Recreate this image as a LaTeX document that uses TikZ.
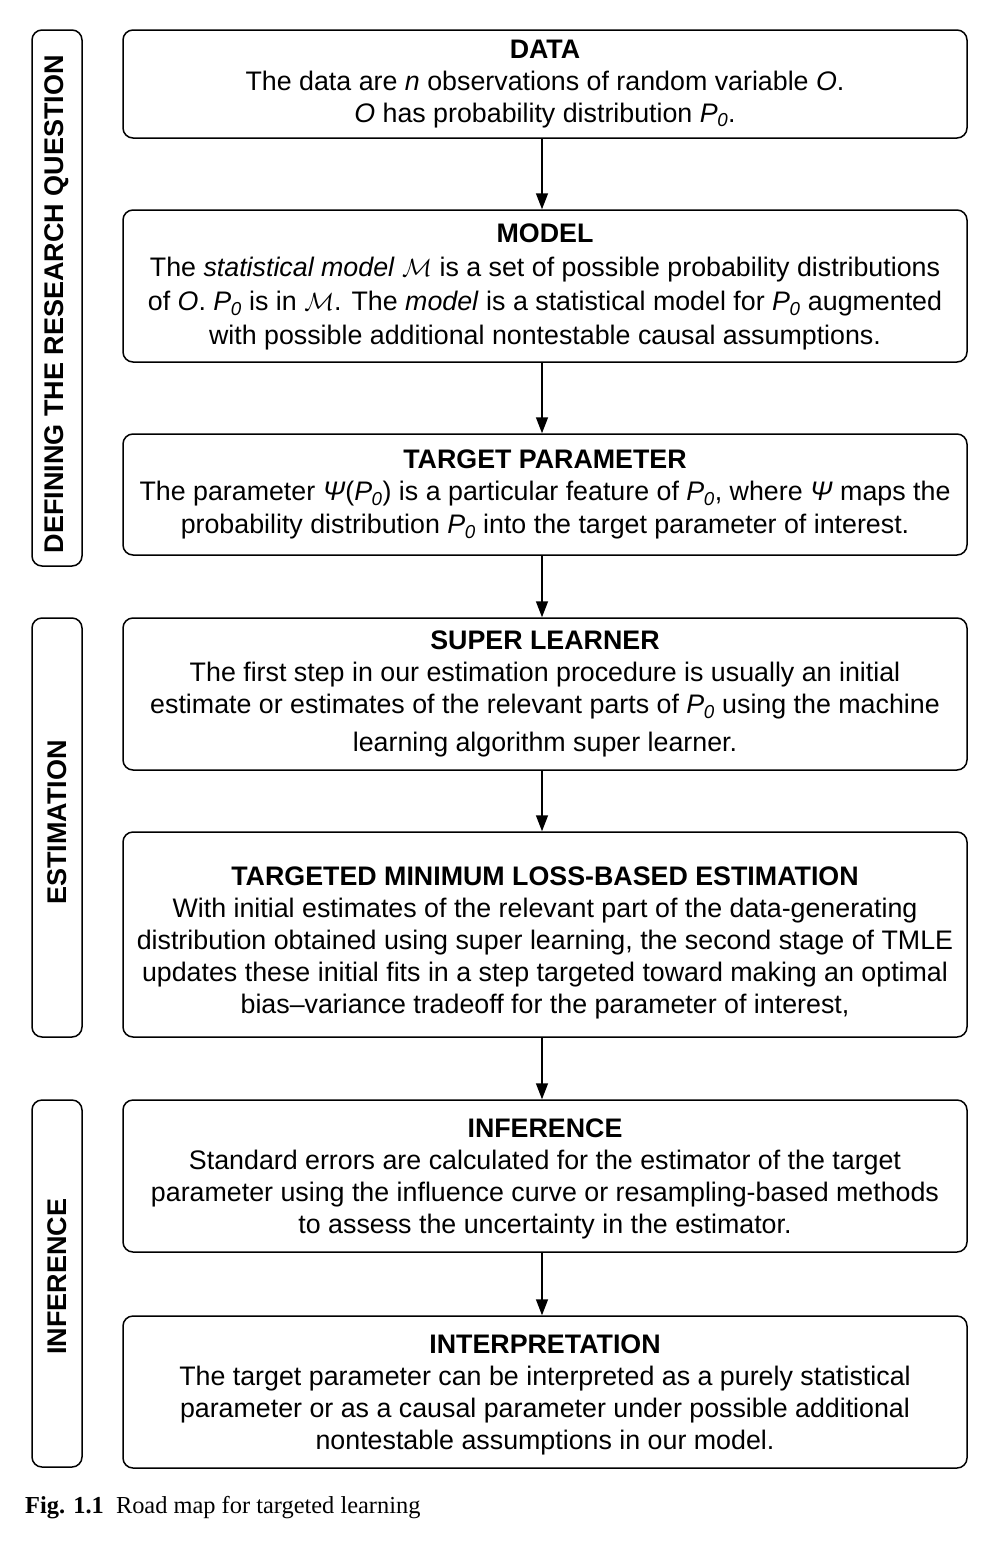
\documentclass[tikz,border=0pt]{standalone}
\usepackage{fontspec}
\setmainfont{Liberation Sans}
\newfontfamily\capfont{Liberation Serif}
\usetikzlibrary{arrows.meta}

\newcommand{\Pz}{\textit{P\kern-0.5pt}\textsubscript{\textit{0}}}
\newcommand{\Msf}{$\mathcal{M}$}

\begin{document}
\begin{tikzpicture}[x=1pt,y=-1pt,
  stagebox/.style={draw, line width=1.5pt, rounded corners=10pt,
    minimum width=844pt, inner sep=0pt, align=center,
    font=\fontsize{26.8}{32}\selectfont},
  sidebox/.style={draw, line width=1.5pt, rounded corners=10pt,
    minimum width=50pt, inner sep=0pt},
  sidelabel/.style={rotate=90, font=\bfseries\fontsize{27}{30}\selectfont},
  flow/.style={line width=1.5pt, -{Triangle[width=12pt,length=16pt]}}]

\useasboundingbox (0,0) rectangle (1002,1550);
\fill[white] (0,0) rectangle (1002,1550);

% main stages
\node[stagebox, minimum height=108pt] (data) at (545,84)
  {\textbf{DATA}\\
   The data are \textit{n} observations of random variable \textit{O}.\\
   \textit{O} has probability distribution \Pz.};

\node[stagebox, minimum height=152pt] (model) at (545,286)
  {\rule{0pt}{21pt}\textbf{MODEL}\\[2pt]
   The \textit{statistical model} \Msf{} is a set of possible probability distributions\\[2pt]
   of \textit{O}. \Pz{} is in \Msf. The \textit{model} is a statistical model for \Pz{} augmented\\[2pt]
   with possible additional nontestable causal assumptions.};

\node[stagebox, minimum height=121pt] (target) at (545,494.5)
  {\textbf{TARGET PARAMETER}\\
   The parameter \textit{Ψ}(\Pz) is a particular feature of \Pz, where \textit{Ψ} maps the\\[1pt]
   probability distribution \Pz{} into the target parameter of interest.};

\node[stagebox, minimum height=152pt] (super) at (545,694)
  {\textbf{SUPER LEARNER}\\
   The first step in our estimation procedure is usually an initial\\
   estimate or estimates of the relevant parts of \Pz{} using the machine\\[6pt]
   learning algorithm super learner.};

\node[stagebox, minimum height=205pt] (tmle) at (545,934.5)
  {\rule{0pt}{35pt}\textbf{TARGETED MINIMUM LOSS-BASED ESTIMATION}\\
   With initial estimates of the relevant part of the data-generating\\
   distribution obtained using super learning, the second stage of TMLE\\
   updates these initial fits in a step targeted toward making an optimal\\
   bias–variance tradeoff for the parameter of interest,};

\node[stagebox, minimum height=152pt] (infer) at (545,1176)
  {\rule{0pt}{25pt}\textbf{INFERENCE}\\
   Standard errors are calculated for the estimator of the target\\
   parameter using the influence curve or resampling-based methods\\
   to assess the uncertainty in the estimator.};

\node[stagebox, minimum height=152pt] (interp) at (545,1392)
  {\rule{0pt}{25pt}\textbf{INTERPRETATION}\\
   The target parameter can be interpreted as a purely statistical\\
   parameter or as a causal parameter under possible additional\\
   nontestable assumptions in our model.};

% phase brackets on the left
\node[sidebox, minimum height=536pt] (phaseA) at (57,298) {};
\node[sidelabel] (labelA) at ([yshift=-6pt]phaseA.center) {DEFINING THE RESEARCH QUESTION};
\node[sidebox, minimum height=419pt] (phaseB) at (57,827.5) {};
\node[sidelabel] (labelB) at ([yshift=5pt]phaseB.center) {ESTIMATION};
\node[sidebox, minimum height=367pt] (phaseC) at (57,1283.5) {};
\node[sidelabel] (labelC) at ([yshift=7pt]phaseC.center) {INFERENCE};

% flow between stages
\foreach \a/\b in {data/model, model/target, target/super, super/tmle, tmle/infer, infer/interp}
  \draw[flow] ([xshift=-3pt]\a.south) -- ([xshift=-3pt]\b.north);

% caption
\node[anchor=west, inner sep=0pt, font=\capfont\fontsize{24.4}{28}\selectfont] (caption) at (25,1508)
  {\textbf{Fig. 1.1}\hspace{0.5em}Road map for targeted learning};

\end{tikzpicture}
\end{document}
